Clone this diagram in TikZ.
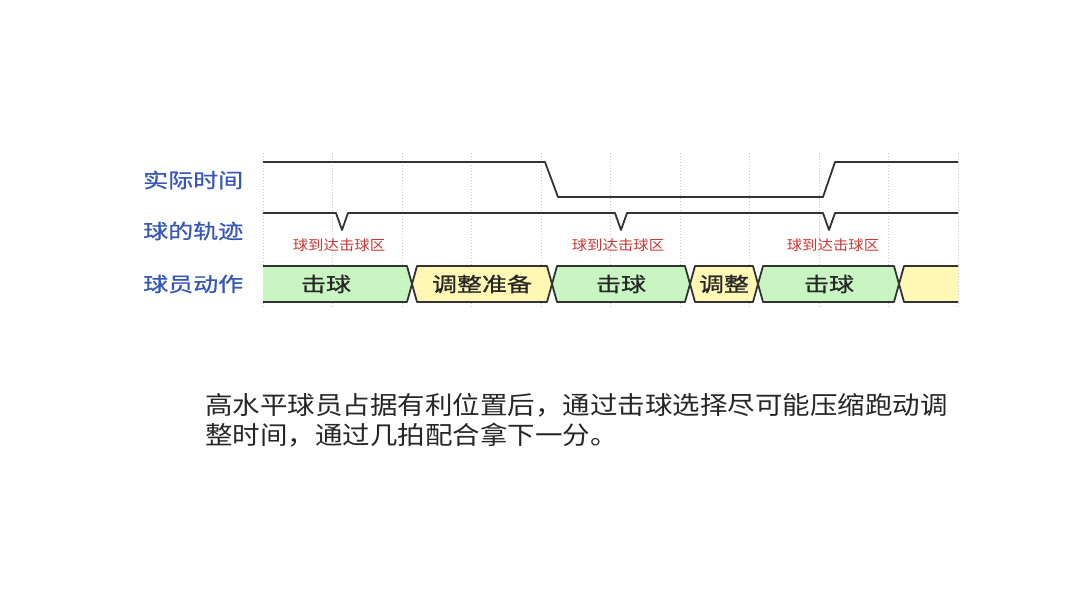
\documentclass[tikz,border=0pt]{standalone}
\usepackage{fontspec}
\newfontfamily\cjkwide[FakeStretch=1.25,FakeBold=0.8]{Noto Sans CJK SC}
\newfontfamily\cjknorm[FakeStretch=1.1]{Noto Sans CJK SC}
\definecolor{labblue}{HTML}{3656B8}
\definecolor{hitred}{HTML}{CC3838}
\definecolor{wave}{HTML}{333333}
\definecolor{hitgreen}{HTML}{C8F5C2}
\definecolor{adjyellow}{HTML}{FFF7B4}
\definecolor{gridgray}{HTML}{C8C8C8}
\tikzset{
  rowlab/.style={anchor=west, inner sep=0pt, text=labblue, font=\cjkwide\fontsize{20}{24}\selectfont},
  hitlab/.style={inner sep=0pt, text=hitred, font=\cjknorm\fontsize{14}{16}\selectfont},
  buslab/.style={inner sep=0pt, text=black!85, font=\cjkwide\fontsize{20}{24}\selectfont},
  sig/.style={draw=wave, line width=1.8pt, line join=round},
}
\begin{document}
\begin{tikzpicture}[x=1pt,y=-1pt]
\useasboundingbox[fill=white] (0,0) rectangle (1080,608);
% grid
\foreach \k in {0,...,10}
  \draw[gridgray, dotted, line width=1pt] (263+69.5*\k,153) -- (263+69.5*\k,308);

% row labels
\node[rowlab] (lab0) at (143,180) {实际时间};
\node[rowlab] (lab1) at (143,231) {球的轨迹};
\node[rowlab] (lab2) at (143,284) {球员动作};

% real time
\draw[sig] (263,162) -- (545,162) -- (558,197) -- (823,197) -- (835,162) -- (958,162);

% ball path
\draw[sig] (263,213) -- (336,213) -- (342,230) -- (348,213)
  -- (615,213) -- (621,230) -- (627,213)
  -- (823,213) -- (829,230) -- (835,213) -- (958,213);
\node[hitlab] (hit0) at (339,245) {球到达击球区};
\node[hitlab] (hit1) at (618,245) {球到达击球区};
\node[hitlab] (hit2) at (833,245) {球到达击球区};

% player actions
\fill[hitgreen] (263,266) -- (407,266) -- (412,284) -- (407,302) -- (263,302) -- cycle;
\draw[sig] (263,266) -- (407,266) -- (412,284) -- (407,302) -- (263,302);
\fill[adjyellow] (412,284) -- (417,266) -- (547,266) -- (552,284) -- (547,302) -- (417,302) -- cycle;
\draw[sig] (412,284) -- (417,266) -- (547,266) -- (552,284) -- (547,302) -- (417,302) -- cycle;
\fill[hitgreen] (552,284) -- (557,266) -- (685,266) -- (690,284) -- (685,302) -- (557,302) -- cycle;
\draw[sig] (552,284) -- (557,266) -- (685,266) -- (690,284) -- (685,302) -- (557,302) -- cycle;
\fill[adjyellow] (690,284) -- (695,266) -- (753,266) -- (758,284) -- (753,302) -- (695,302) -- cycle;
\draw[sig] (690,284) -- (695,266) -- (753,266) -- (758,284) -- (753,302) -- (695,302) -- cycle;
\fill[hitgreen] (758,284) -- (763,266) -- (894,266) -- (899,284) -- (894,302) -- (763,302) -- cycle;
\draw[sig] (758,284) -- (763,266) -- (894,266) -- (899,284) -- (894,302) -- (763,302) -- cycle;
\fill[adjyellow] (899,284) -- (904,266) -- (958,266) -- (958,302) -- (904,302) -- cycle;
\draw[sig] (958,266) -- (904,266) -- (899,284) -- (904,302) -- (958,302);
\node[buslab] (act0) at (326,284) {击球};
\node[buslab] (act1) at (482,284) {调整准备};
\node[buslab] (act2) at (621,284) {击球};
\node[buslab] (act3) at (724,284) {调整};
\node[buslab] (act4) at (829,284) {击球};

% caption
\node[anchor=north west, inner sep=0pt, align=left, text=black!85,
  font=\cjknorm\fontsize{25}{30}\selectfont] (note) at (205,393)
  {高水平球员占据有利位置后，通过击球选择尽可能压缩跑动调\\整时间，通过几拍配合拿下一分。};
\end{tikzpicture}
\end{document}
